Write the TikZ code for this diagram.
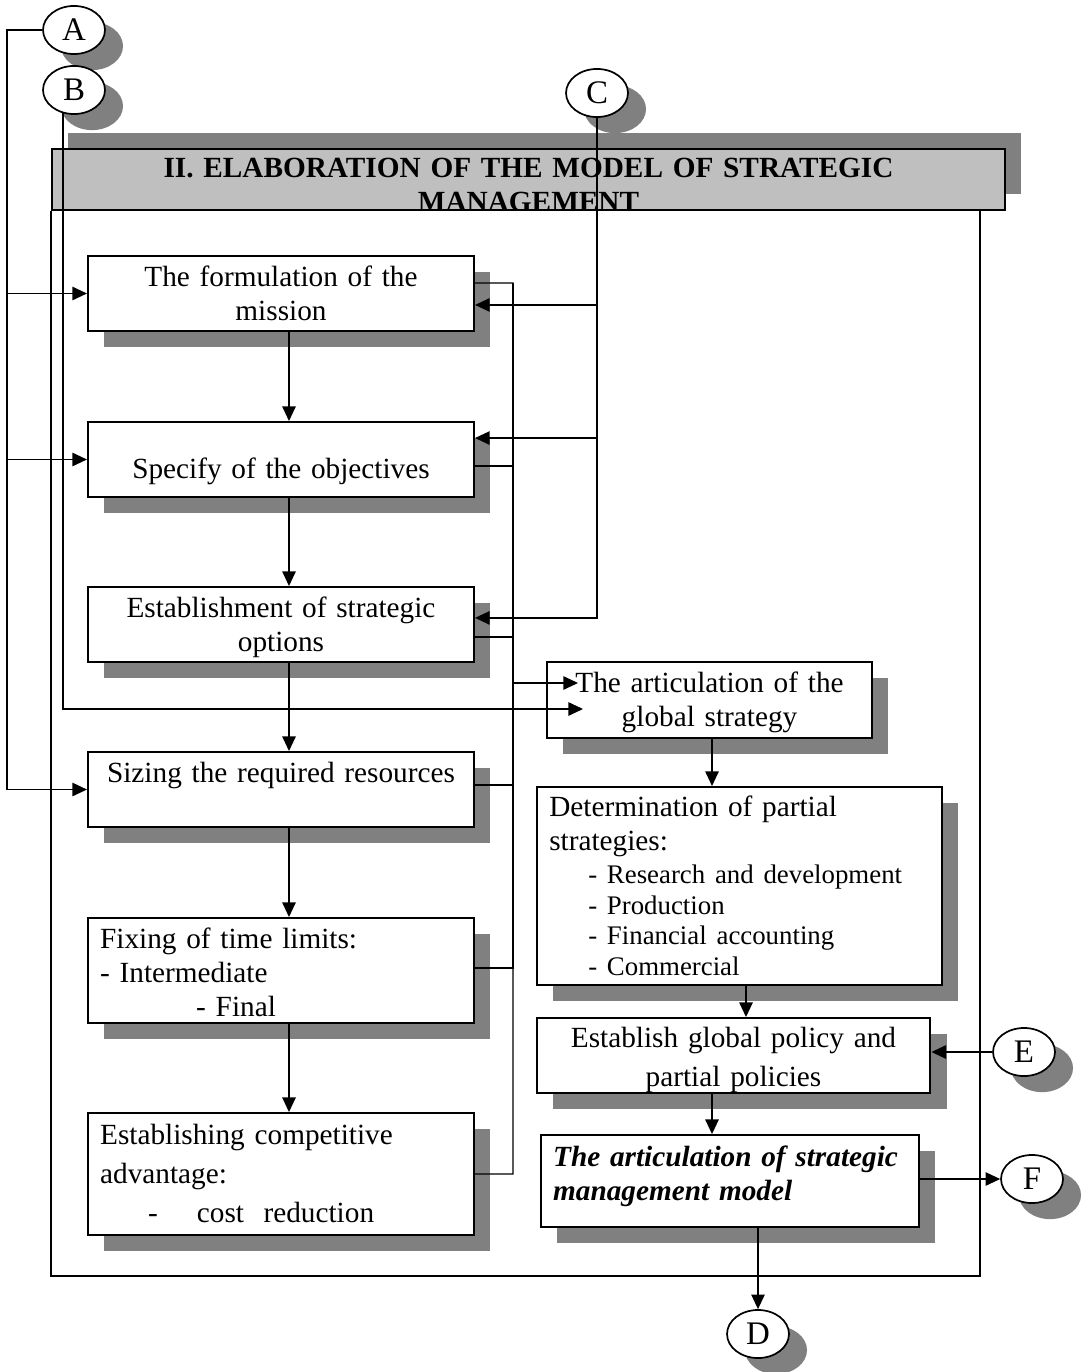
\documentclass[tikz,border=0pt]{standalone}
\usepackage[usenames,dvipsnames,svgnames,table]{xcolor}
\usepackage{fontspec}
\setmainfont{Liberation Serif}
\usepackage{tikz}
\usetikzlibrary{shapes.geometric,arrows.meta,shadows}
\newcommand{\boxfont}{\fontsize{12pt}{13.94pt}\selectfont}
\newcommand{\listfont}{\fontsize{11pt}{12.7pt}\selectfont}
\tikzstyle{box1}=[rectangle, draw=black, line width=0.8pt, fill=white, inner xsep=5pt, inner ysep=0pt,
        text width=148.3pt, text height=12.7pt, align=center, font=\boxfont,
        drop shadow={shadow xshift=6.6pt, shadow yshift=-6.6pt, fill=black!50, opacity=1}]
\tikzstyle{circ}=[ellipse, draw=black, line width=0.7pt, fill=white, inner sep=0pt,
        minimum width=25.4pt, minimum height=19.7pt, font=\fontsize{13.5pt}{15pt}\selectfont,
        drop shadow={shadow xshift=7.4pt, shadow yshift=-6.6pt, fill=black!50, opacity=1}]
\tikzstyle{head}=[rectangle, draw=black, line width=0.8pt, fill=black!25,
        minimum width=390.7pt, minimum height=25pt, inner sep=0pt,
        drop shadow={shadow xshift=6.6pt, shadow yshift=6.6pt, fill=black!50, opacity=1}]
\tikzstyle{headtext}=[anchor=north, inner sep=0pt, text width=390pt, align=center,
        text height=11.9pt, font=\boxfont\bfseries]
\tikzstyle{conn}=[draw=black, line width=0.6pt]
\tikzstyle{arr}=[conn, -{Triangle[length=6pt,width=5.5pt]}]

\begin{document}
\begin{tikzpicture}[x=0.41pt, y=-0.41pt]
\useasboundingbox (0,0) rectangle (1086,1372);
\node [head] (title) at (528.5,179.5) {};
\begin{scope}
\clip ([yshift=0.4pt]title.south west) rectangle (title.north east);
\node [headtext] (titletext) at (title.north) {II. ELABORATION OF THE MODEL OF STRATEGIC\\MANAGEMENT};
\end{scope}
\coordinate (framebr) at (980,1276);
\draw [conn, line width=0.8pt] (title.south west) |- (framebr) -- (framebr |- title.south);

\node [box1, text depth=18.05pt] (mission) at (281,293.5) {The formulation of the\\mission};
\node [box1, text height=23.1pt, text depth=7.65pt] (objectives) at (281,459.5) {Specify of the objectives};
\node [box1, text depth=18.05pt] (options) at (281,624.5) {Establishment of strategic\\options};
\node [box1, text depth=18.05pt] (sizing) at (281,789.5) {Sizing the required resources};
\node [box1, align=left, text height=12.4pt, text depth=30.65pt] (limits) at (281,970.5) {Fixing of time limits:\\- Intermediate\\\hspace*{39.4pt}- Final};
\node [box1, align=left, text height=13pt, text depth=37pt] (advantage) at (281,1174) {Establishing competitive\\[2.1pt]advantage:\\[2.1pt]\hspace*{19.7pt}-\hspace{16pt}cost\ \ reduction};

\node [box1, text width=123.25pt, text depth=18.5pt] (gs) at (709.5,700) {The articulation of the\\global strategy};
\node [box1, text width=156pt, align=left, text height=12.3pt, text depth=68.9pt] (partial) at (739.5,886) {Determination of partial\\strategies:\\[-0.6pt]{\listfont\hspace*{16pt}- Research and development}\\[-1.4pt]{\listfont\hspace*{16pt}- Production}\\[-1.4pt]{\listfont\hspace*{16pt}- Financial accounting}\\[-1.4pt]{\listfont\hspace*{16pt}- Commercial}};
\node [box1, text width=151.5pt, text height=12.2pt, text depth=18.55pt] (policy) at (733.5,1055.5) {Establish global policy and\\[2.1pt]partial policies};
\node [box1, text width=145pt, align=left, text height=13pt, text depth=24.7pt, font=\boxfont\bfseries\itshape] (model) at (730,1181) {The articulation of strategic\\management model};

\node [circ] (A) at (74,30) {A};
\node [circ] (B) at (74,90) {B};
\node [circ] (C) at (597,93) {C};
\node [circ] (D) at (758,1334) {D};
\node [circ] (E) at (1024,1052) {E};
\node [circ] (F) at (1032,1179) {F};

\coordinate (varr) at (289,0);
\draw [arr] (mission.south -| varr) -- (objectives.north -| varr);
\draw [arr] (objectives.south -| varr) -- (options.north -| varr);
\draw [arr] (options.south -| varr) -- (sizing.north -| varr);
\draw [arr] (sizing.south -| varr) -- (limits.north -| varr);
\draw [arr] (limits.south -| varr) -- (advantage.north -| varr);

\coordinate (rarr) at (712,0);
\coordinate (rarr2) at (746,0);
\draw [arr] (gs.south -| rarr) -- (partial.north -| rarr);
\draw [arr] (partial.south -| rarr2) -- (policy.north -| rarr2);
\draw [arr] (policy.south -| rarr) -- (model.north -| rarr);
\draw [arr] (model.south -| D) -- (D.north);
\draw [arr] (E.west) -- (E.west -| policy.east);
\draw [arr] (F.west -| model.east) -- (F.west);

\coordinate (aline) at (7,0);
\draw [arr] (A.west) -| (aline |- sizing.west) -- (sizing.west);
\draw [arr] (aline |- mission.west) -- (mission.west);
\draw [arr] (aline |- objectives.west) -- (objectives.west);

\coordinate (gsin2) at (583,709);
\draw [arr] (B.245) |- (gsin2);

\draw [arr] (C.south) |- ([yshift=-4.7pt]mission.east);
\draw [arr] (C.south) |- ([yshift=8.8pt]objectives.east);
\draw [arr] (C.south) |- ([yshift=2.7pt]options.east);

\coordinate (coll) at (513,283);
\draw [conn] ([yshift=4.3pt]mission.east) -- (coll) |- (advantage.east);
\draw [conn] ([yshift=-2.7pt]objectives.east) -| (coll);
\draw [conn] ([yshift=-5.1pt]options.east) -| (coll);
\draw [conn] ([yshift=1.8pt]sizing.east) -| (coll);
\draw [conn] ([yshift=1pt]limits.east) -| (coll);
\coordinate (gsin1) at (578,683);
\draw [arr] (coll |- gsin1) -- (gsin1);
\end{tikzpicture}
\end{document}
